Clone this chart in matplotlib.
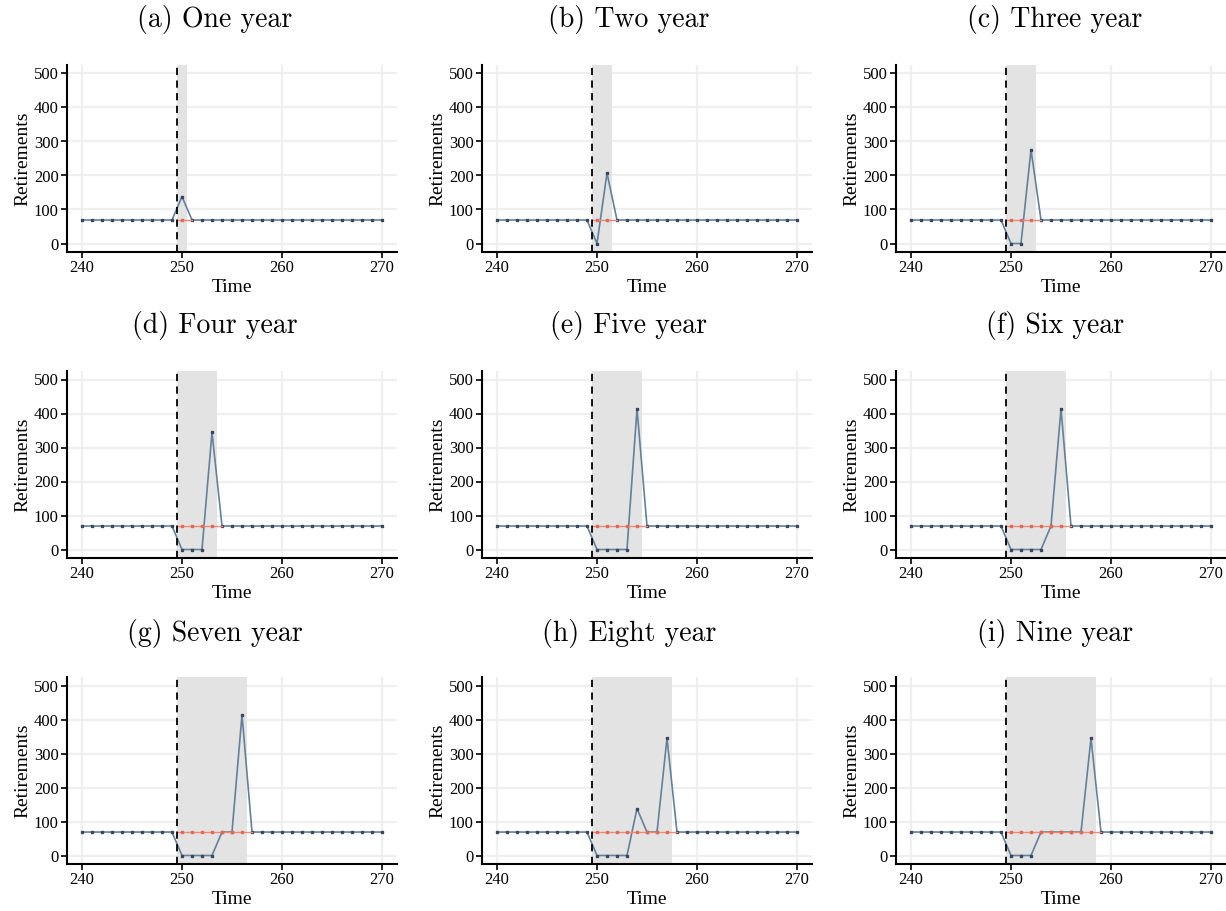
import numpy as np
import matplotlib
matplotlib.use('Agg')
import matplotlib.pyplot as plt

# Data: retirements per period for each window length (1..9 years)
time = np.arange(240, 271)
baseline = 69
treat_time = 249.5

titles = ['(a) One year', '(b) Two year', '(c) Three year',
          '(d) Four year', '(e) Five year', '(f) Six year',
          '(g) Seven year', '(h) Eight year', '(i) Nine year']
window_years = [1, 2, 3, 4, 5, 6, 7, 8, 9]

# values inside the window, starting at t=250
window_values = [
    [138],
    [0, 207],
    [0, 0, 276],
    [0, 0, 0, 345],
    [0, 0, 0, 0, 414],
    [0, 0, 0, 0, 69, 414],
    [0, 0, 0, 0, 69, 69, 414],
    [0, 0, 0, 0, 138, 69, 69, 345],
    [0, 0, 0, 69, 69, 69, 69, 69, 345],
]

blue = '#62819b'
dot = '#3a4660'
red = '#ec8a78'
grid_col = '#efefef'
shade = '#e3e3e3'

fig = plt.figure(figsize=(12.26, 9.11), dpi=100)
W, H = 1226, 911

col_left = [67, 482, 896]
row_top = [65, 371, 677]
ax_w, ax_h = 330, 187
title_x = [215, 629, 1055]
title_y = [19, 326, 633]

for i in range(9):
    r, c = divmod(i, 3)
    ax = fig.add_axes([col_left[c] / W, 1 - (row_top[r] + ax_h) / H, ax_w / W, ax_h / H])
    n = window_years[i]
    y = np.full(len(time), baseline, dtype=float)
    start = np.where(time == 250)[0][0]
    y[start:start + n] = window_values[i]

    ax.axvspan(treat_time, treat_time + n, color=shade, lw=0, zorder=1)
    ax.plot(time, y, color=blue, lw=1.2, zorder=3)
    ax.plot(time, y, ls='none', marker='s', ms=1.5, color=dot, zorder=4)

    # counterfactual inside the window
    cf_x = np.concatenate([[treat_time], time[start:start + n + 1]])
    ax.plot(cf_x, np.full(len(cf_x), baseline), color=red, lw=1.0, zorder=5)
    ax.plot(time[start:start + n], np.full(n, baseline), ls='none', marker='s',
            ms=1.5, color='#e06a56', zorder=6)
    ax.axvline(treat_time, color='black', ls=(0, (4, 3)), lw=1.3, zorder=6)

    ax.set_xlim(238.5, 271.5)
    ax.set_ylim(-25, 525)
    ax.set_xticks([240, 250, 260, 270])
    ax.set_yticks([0, 100, 200, 300, 400, 500])
    ax.grid(True, color=grid_col, lw=1.6, zorder=0)
    ax.set_axisbelow(True)
    for s in ['top', 'right']:
        ax.spines[s].set_visible(False)
    for s in ['left', 'bottom']:
        ax.spines[s].set_linewidth(1.5)
    ax.tick_params(direction='out', length=4, width=1.2, labelsize=12,
                   colors='black', pad=2)
    for lab in ax.get_xticklabels() + ax.get_yticklabels():
        lab.set_fontfamily('Liberation Serif')
    ax.set_xlabel('Time', fontsize=14, family='Liberation Serif', labelpad=2)
    ax.set_ylabel('Retirements', fontsize=14, family='Liberation Serif', labelpad=2)

    fig.text(title_x[c] / W, 1 - title_y[r] / H, titles[i], ha='center', va='center',
             fontsize=20, family='cmr10')

fig.savefig('out.png', dpi=100)
